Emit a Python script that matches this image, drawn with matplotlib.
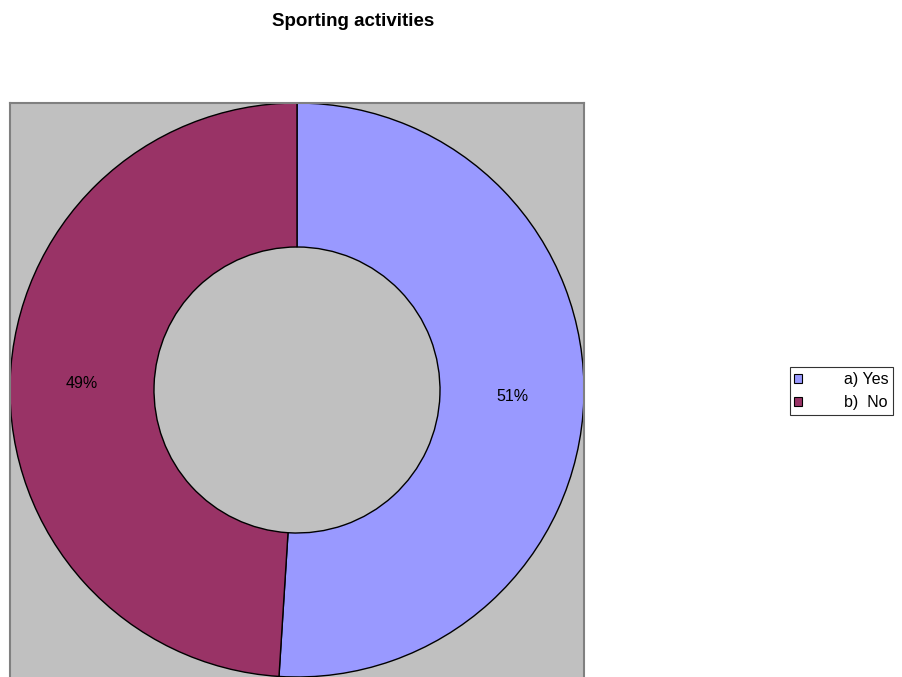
import matplotlib.pyplot as plt

plt.rcParams['font.family'] = ['Liberation Sans', 'DejaVu Sans']

labels = ["a) Yes", "b)  No"]
shares = [51, 49]
colors = ["#9999FF", "#993366"]

W, H = 902, 677
fig = plt.figure(figsize=(W / 100, H / 100), dpi=100)

# plot area in pixel terms: x 10..584, y 103..680
ax = fig.add_axes([10 / W, (H - 680) / H, 574 / W, 577 / H])

wedges, texts, autotexts = ax.pie(
    shares,
    colors=colors,
    startangle=90,
    counterclock=False,
    radius=287,
    autopct="%1.0f%%",
    pctdistance=0.75,
    wedgeprops=dict(width=144, edgecolor="black", linewidth=1),
    textprops=dict(fontsize=11.5),
)
# pie() switches the frame off, bring back the grey plot area
ax.set_frame_on(True)
ax.set_facecolor("#C0C0C0")
ax.set_xlim(-287, 287)
ax.set_ylim(-290, 287)
ax.set_aspect("auto")
ax.set_xticks([])
ax.set_yticks([])
for side in ["left", "top", "right"]:
    ax.spines[side].set_color("#808080")
    ax.spines[side].set_linewidth(1.5)
ax.spines["bottom"].set_visible(False)

fig.text(353 / W, 1 - 26 / H, "Sporting activities", ha="center", va="baseline",
         fontsize=13.5, fontweight="bold")

leg = fig.legend(wedges, labels, loc="center", bbox_to_anchor=(841.5 / W, 1 - 391 / H),
                 fontsize=11.5, frameon=True, fancybox=False, edgecolor="black",
                 handlelength=0.5, handleheight=0.5, handletextpad=2.6,
                 borderpad=0.3, labelspacing=0.5, borderaxespad=0)
leg.get_frame().set_linewidth(0.8)
for h in leg.legend_handles:
    h.set_linewidth(0.8)

fig.savefig("out.png", dpi=100)
